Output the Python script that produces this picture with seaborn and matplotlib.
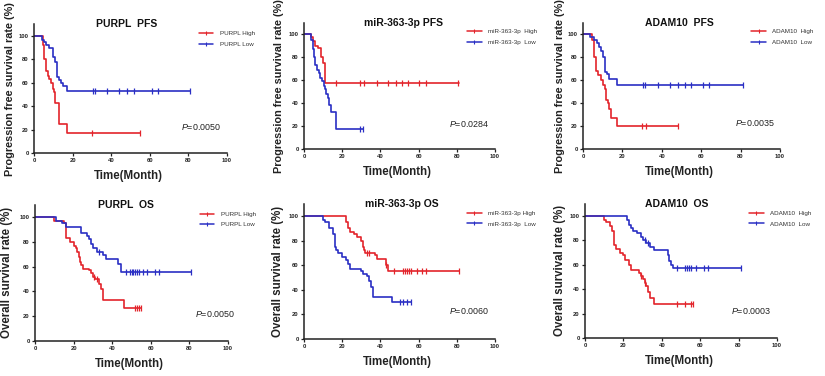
import numpy as np
import pandas as pd
import matplotlib
matplotlib.use("Agg")
import matplotlib.pyplot as plt
from matplotlib.lines import Line2D
import seaborn as sns

sns.set_style("ticks")
plt.rcParams['font.family'] = ['Liberation Sans', 'DejaVu Sans']
plt.rcParams['mathtext.fontset'] = 'custom'
plt.rcParams['mathtext.it'] = 'Liberation Sans:italic'
plt.rcParams['mathtext.rm'] = 'Liberation Sans'

RED = '#e3242b'
BLUE = '#2a2fc4'

# ---------------- data ----------------
# Panel 1: PURPL PFS
purpl_pfs_high_t = [0, 4.5, 5, 6, 7, 8, 9, 10, 10.5, 11, 13, 17.3, 55]
purpl_pfs_high_s = [100, 92, 80, 70, 66, 63, 60, 55, 52, 43, 25, 17, 17]
purpl_pfs_high_c = [30, 55]
purpl_pfs_low_t = [0, 4, 5, 6, 8, 10, 11, 12, 13, 14, 15, 17, 81]
purpl_pfs_low_s = [100, 97, 95, 92, 90, 82, 78, 65, 62, 60, 57, 53, 53]
purpl_pfs_low_c = [30.5, 31.5, 38, 44, 48, 52, 61, 64, 81]

# Panel 2: miR-363-3p PFS
mir_pfs_high_t = [0, 3.5, 4.5, 5.5, 7.5, 9, 10, 11.2, 81]
mir_pfs_high_s = [100, 97, 94, 90, 88, 80, 75, 57, 57]
mir_pfs_high_c = [17, 29.5, 31.5, 38, 44, 48, 51.5, 54.5, 60, 64, 80.5]
mir_pfs_low_t = [0, 3.8, 4.7, 5.2, 5.9, 7, 7.7, 8.6, 9.4, 10.5, 10.8, 11.7, 12.6, 13.1, 14, 16.6, 31]
mir_pfs_low_s = [100, 95, 87, 80, 73, 69, 66, 62, 59, 55, 52, 48, 44, 38, 32, 17, 17]
mir_pfs_low_c = [29.5, 31]

# Panel 3: ADAM10 PFS
adam_pfs_high_t = [0, 4.6, 5.5, 6.5, 7.5, 9, 10, 11, 11.5, 12.5, 13, 14, 17.2, 48]
adam_pfs_high_s = [100, 95, 80, 68, 64, 60, 56, 52, 43, 40, 35, 27, 20, 20]
adam_pfs_high_c = [30, 32, 48]
adam_pfs_low_t = [0, 3.7, 5.4, 7.1, 8.3, 9.1, 10, 11, 12.2, 13, 17.2, 81]
adam_pfs_low_s = [100, 97, 95, 92, 89, 85, 80, 67, 65, 61, 56, 56]
adam_pfs_low_c = [30.7, 31.5, 38, 44, 48, 52, 55, 61, 64, 81]

# Panel 4: PURPL OS
purpl_os_high_t = [0, 10, 15, 16, 18, 20, 21, 22, 23, 23.5, 24, 25, 28, 29, 30, 31, 33, 34, 35, 46, 55]
purpl_os_high_s = [100, 97, 95, 83, 80, 77, 75, 72, 68, 64, 61, 58, 57, 55, 52, 50, 46, 42, 33, 27, 27]
purpl_os_high_c = [30.5, 32, 52, 53, 54, 55]
purpl_os_low_t = [0, 11, 14, 16, 24, 27, 28, 29, 30, 32, 35, 37, 43, 44.5, 81]
purpl_os_low_s = [100, 97, 95, 92, 87, 85, 82, 78, 75, 72, 69, 66, 62, 56, 56]
purpl_os_low_c = [33, 47, 49, 50, 51, 52, 53, 54, 56, 58, 62, 64, 81]

# Panel 5: miR-363-3p OS
mir_os_high_t = [0, 22, 23, 24, 26, 28, 30, 31, 31.5, 32, 37, 38, 43, 44, 81]
mir_os_high_s = [100, 95, 90, 87, 85, 83, 80, 75, 72, 70, 68, 65, 60, 55, 55]
mir_os_high_c = [33, 34, 43, 47, 52, 53, 54, 55, 56, 59, 62, 64, 81]
mir_os_low_t = [0, 10, 11, 13, 15, 16, 17, 18, 20, 22, 23, 24, 30, 31, 33, 34, 35, 36, 46, 56]
mir_os_low_s = [100, 97, 95, 90, 85, 75, 72, 70, 67, 64, 61, 57, 55, 53, 51, 47, 42, 34, 30, 30]
mir_os_low_c = [50, 52, 54, 56]

# Panel 6: ADAM10 OS
adam_os_high_t = [0, 10, 11, 13, 14, 15, 16, 18, 20, 21, 23, 24, 28, 29, 30, 31, 32, 33, 34, 36, 56]
adam_os_high_s = [100, 97, 95, 92, 88, 76, 73, 70, 68, 64, 60, 56, 53, 51, 48, 45, 43, 38, 33, 28, 28]
adam_os_high_c = [29, 31, 48, 52, 55, 56]
adam_os_low_t = [0, 22, 23, 24, 25, 27, 29, 30, 32, 34, 36, 43, 44, 45, 46, 81]
adam_os_low_s = [100, 97, 93, 90, 88, 86, 83, 80, 78, 75, 72, 68, 63, 60, 57, 57]
adam_os_low_c = [31, 33, 48, 52, 53, 54, 55, 58, 62, 64, 81]

titles = ["PURPL  PFS", "miR-363-3p PFS", "ADAM10  PFS",
          "PURPL  OS", "miR-363-3p OS", "ADAM10  OS"]
ylabels = ["Progression free survival rate (%)"] * 3 + ["Overall survival rate (%)"] * 3
legend_labels = [("PURPL High", "PURPL Low"),
                 ("miR-363-3p  High", "miR-363-3p  Low"),
                 ("ADAM10  High", "ADAM10  Low"),
                 ("PURPL High", "PURPL Low"),
                 ("miR-363-3p High", "miR-363-3p  Low"),
                 ("ADAM10  High", "ADAM10  Low")]
p_values = ["0.0050", "0.0284", "0.0035", "0.0050", "0.0060", "0.0003"]
x_ticks = [0, 20, 40, 60, 80, 100]
y_ticks = [0, 20, 40, 60, 80, 100]

series = [
    (purpl_pfs_high_t, purpl_pfs_high_s, purpl_pfs_high_c, purpl_pfs_low_t, purpl_pfs_low_s, purpl_pfs_low_c),
    (mir_pfs_high_t, mir_pfs_high_s, mir_pfs_high_c, mir_pfs_low_t, mir_pfs_low_s, mir_pfs_low_c),
    (adam_pfs_high_t, adam_pfs_high_s, adam_pfs_high_c, adam_pfs_low_t, adam_pfs_low_s, adam_pfs_low_c),
    (purpl_os_high_t, purpl_os_high_s, purpl_os_high_c, purpl_os_low_t, purpl_os_low_s, purpl_os_low_c),
    (mir_os_high_t, mir_os_high_s, mir_os_high_c, mir_os_low_t, mir_os_low_s, mir_os_low_c),
    (adam_os_high_t, adam_os_high_s, adam_os_high_c, adam_os_low_t, adam_os_low_s, adam_os_low_c),
]

# ---------------- layout ----------------
W, H = 825, 376
# (left_px, x100_px, y0_px, y100_px)
frames = [(34, 227, 153, 36), (304, 495, 149, 34), (583, 780, 149, 34),
          (35, 228, 341, 217), (304, 495, 339, 216), (585, 777, 338, 216)]
ptext_pos = [(76, 22), (76, 21.5), (77, 22.4), (83, 22), (76, 22.5), (76, 22)]
ylab_off_px = [24, 25, 23, 28, 26, 25]
ylab_size = [7.8, 7.8, 7.8, 8.3, 8.3, 8.3]
title_x = [0.48, 0.52, 0.49, 0.47, 0.51, 0.48]

fig = plt.figure(figsize=(W / 100, H / 100), dpi=100)


def censor_y(t, s, c):
    t = np.asarray(t); s = np.asarray(s)
    idx = np.searchsorted(t, np.asarray(c), side='right') - 1
    return s[np.clip(idx, 0, len(s) - 1)]


for i in range(6):
    lx, rx, y0, y100 = frames[i]
    ppu = (y0 - y100) / 100.0
    ytop = y0 - 110 * ppu
    ax = fig.add_axes([lx / W, (H - y0) / H, (rx - lx) / W, (y0 - ytop) / H])
    ht, hs, hc, lt, ls, lc = series[i]

    for t, s, c, col in [(ht, hs, hc, RED), (lt, ls, lc, BLUE)]:
        df = pd.DataFrame({"t": t, "s": s})
        sns.lineplot(data=df, x="t", y="s", estimator=None, sort=False,
                     drawstyle="steps-post", color=col, lw=1.2, ax=ax)
        cdf = pd.DataFrame({"t": c, "s": censor_y(t, s, c)})
        sns.scatterplot(data=cdf, x="t", y="s", marker="|", s=16, color=col,
                        linewidth=0.9, ax=ax, zorder=3)

    ax.set_xlim(0, 100)
    ax.set_ylim(0, 110)
    ax.set_xticks(x_ticks)
    ax.set_yticks(y_ticks)
    for sp in ["top", "right"]:
        ax.spines[sp].set_visible(False)
    for sp in ["left", "bottom"]:
        ax.spines[sp].set_linewidth(1.1)
        ax.spines[sp].set_color("#222222")
    ax.spines["left"].set_bounds(0, 110)
    ax.tick_params(axis="both", length=2.2, width=0.9, pad=1.5, labelsize=4.2, colors="#222222")
    for lab in ax.get_xticklabels() + ax.get_yticklabels():
        lab.set_fontweight("bold")

    ax_h_px = y0 - ytop
    ax_w_px = rx - lx
    ax.set_xlabel("Time(Month)", fontsize=8.3, fontweight="bold", color="#222222")
    ax.xaxis.set_label_coords(0.49, -17.0 / ax_h_px)
    ax.xaxis.label.set_va("top")
    ax.set_ylabel(ylabels[i], fontsize=ylab_size[i], fontweight="bold", color="#222222")
    ax.yaxis.set_label_coords(-ylab_off_px[i] / ax_w_px, 0.5)
    ax.yaxis.label.set_va("center")

    ax.text(title_x[i], 1.0, titles[i], transform=ax.transAxes, ha="center", va="center",
            fontsize=7.5, fontweight="bold", color="#111111")

    px, py = ptext_pos[i]
    ax.text(px, py, r"$\mathit{P}$=" + p_values[i], ha="left", va="center",
            fontsize=6.4, color="#222222")

    handles = [Line2D([0], [0], color=RED, lw=1.1, marker="|", markersize=3, markeredgewidth=0.8),
               Line2D([0], [0], color=BLUE, lw=1.1, marker="|", markersize=3, markeredgewidth=0.8)]
    leg = ax.legend(handles, legend_labels[i], loc="upper left", bbox_to_anchor=(0.855, 0.95),
                    frameon=False, fontsize=4.5, handlelength=2.3, handletextpad=1.0,
                    labelspacing=0.85, borderaxespad=0, borderpad=0)
    for txt in leg.get_texts():
        txt.set_color("#333333")

fig.savefig("out.png", dpi=100)
